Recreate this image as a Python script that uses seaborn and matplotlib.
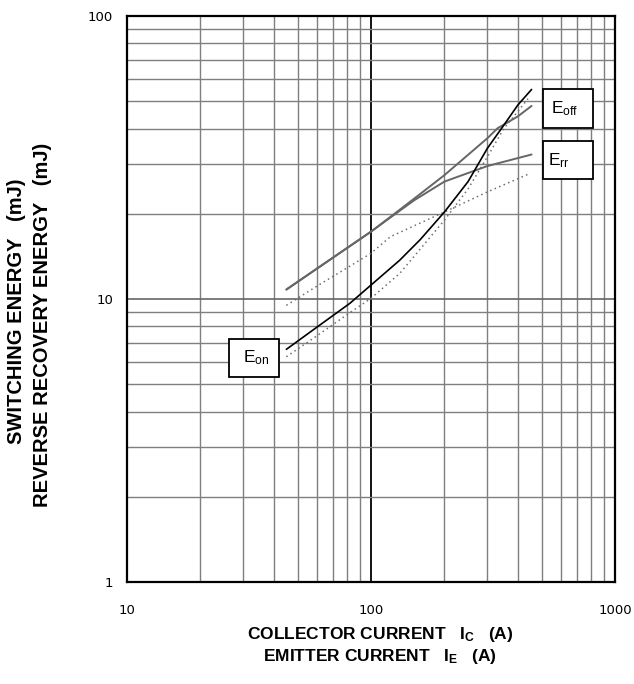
import numpy as np
import pandas as pd
import matplotlib
matplotlib.use("Agg")
import matplotlib.pyplot as plt
from matplotlib.patches import Rectangle
from matplotlib.ticker import FixedLocator, FixedFormatter, NullFormatter, LogLocator
import seaborn as sns

# ---- data ----
eon_current = [45, 60, 82, 100, 131, 159, 200, 250, 300, 350, 400, 455]
eon_energy = [6.64, 7.95, 9.66, 11.2, 13.7, 16.2, 20.3, 26.0, 34.1, 41.1, 48.5, 55.0]

eon2_current = [45, 60, 82, 100, 131, 159, 200, 250, 300, 350, 400, 440]
eon2_energy = [6.25, 7.41, 8.95, 10.06, 12.3, 15.0, 19.0, 24.5, 31.8, 40.0, 46.0, 51.0]

eoff_current = [45, 60, 100, 120, 150, 200, 300, 330, 400, 455]
eoff_energy = [10.8, 12.8, 17.3, 19.5, 22.6, 27.4, 37.0, 40.1, 44.2, 48.1]

err_current = [45, 60, 100, 120, 150, 200, 300, 455]
err_energy = [10.8, 12.8, 17.3, 19.4, 22.3, 26.0, 29.5, 32.4]

err2_current = [45, 60, 100, 120, 200, 300, 449]
err2_energy = [9.5, 11.1, 14.5, 16.6, 20.3, 23.9, 27.8]

x_ticks = [10, 100, 1000]
x_tick_labels = ["10", "100", "1000"]
y_ticks = [1, 10, 100]
y_tick_labels = ["1", "10", "100"]

# ---- style ----
sns.set_style("white")
plt.rcParams["font.family"] = ["Liberation Sans", "DejaVu Sans"]
plt.rcParams["text.color"] = "black"
plt.rcParams["mathtext.fontset"] = "custom"
plt.rcParams["mathtext.rm"] = "Liberation Sans"
plt.rcParams["mathtext.bf"] = "Liberation Sans:bold"

fig = plt.figure(figsize=(6.34, 6.84), dpi=100)
ax = fig.add_axes([127 / 634, 102 / 684, 488 / 634, 566 / 684])

grid_gray = "#7f7f7f"
line_gray = "#666666"
dot_gray = "#6f6f6f"

def draw(xs, ys, color, lw, ls):
    df = pd.DataFrame({"current": xs, "energy": ys})
    sns.lineplot(data=df, x="current", y="energy", ax=ax, color=color,
                 linewidth=lw, linestyle=ls, estimator=None, sort=True, zorder=3)

draw(err2_current, err2_energy, dot_gray, 1.1, (0, (1, 2.2)))
draw(eon2_current, eon2_energy, dot_gray, 1.1, (0, (1, 2.2)))
draw(err_current, err_energy, line_gray, 1.4, "-")
draw(eoff_current, eoff_energy, line_gray, 1.4, "-")
draw(eon_current, eon_energy, "black", 1.2, "-")

ax.set_xscale("log")
ax.set_yscale("log")
ax.set_xlim(10, 1000)
ax.set_ylim(1, 100)

ax.xaxis.set_major_locator(FixedLocator(x_ticks))
ax.xaxis.set_major_formatter(FixedFormatter(x_tick_labels))
ax.yaxis.set_major_locator(FixedLocator(y_ticks))
ax.yaxis.set_major_formatter(FixedFormatter(y_tick_labels))
ax.xaxis.set_minor_locator(LogLocator(base=10, subs=np.arange(2, 10)))
ax.yaxis.set_minor_locator(LogLocator(base=10, subs=np.arange(2, 10)))
ax.xaxis.set_minor_formatter(NullFormatter())
ax.yaxis.set_minor_formatter(NullFormatter())

ax.xaxis.grid(True, which="minor", color=grid_gray, linewidth=1.0)
ax.yaxis.grid(True, which="minor", color=grid_gray, linewidth=1.0)
ax.xaxis.grid(True, which="major", color="black", linewidth=1.3)
ax.yaxis.grid(True, which="major", color="#666666", linewidth=1.2)
ax.set_axisbelow(True)

ax.tick_params(axis="both", which="both", length=0)
ax.tick_params(axis="x", which="major", pad=16)
ax.tick_params(axis="y", which="major", pad=10)
for lab in ax.get_xticklabels() + ax.get_yticklabels():
    lab.set_fontfamily("DejaVu Sans")
    lab.set_fontsize(9.5)
    lab.set_color("black")

for sp in ax.spines.values():
    sp.set_visible(True)
    sp.set_color("black")
    sp.set_linewidth(1.6)

ax.set_xlabel("")
ax.set_ylabel("")

# ---- curve labels in boxes ----
boxes = [
    (0.853, 0.8027, 0.1025, 0.0678, 0.8975, r"E$\mathregular{_{off}}$"),
    (0.852, 0.7120, 0.1023, 0.0666, 0.885, r"E$\mathregular{_{rr}}$"),
    (0.2096, 0.3627, 0.1011, 0.0661, 0.2643, r"E$\mathregular{_{on}}$"),
]
for x0, y0, w, h, tx, txt in boxes:
    ax.add_patch(Rectangle((x0, y0), w, h, transform=ax.transAxes,
                           facecolor="white", edgecolor="black", linewidth=1.3, zorder=5))
    ax.text(tx, y0 + h / 2, txt, transform=ax.transAxes, ha="center", va="center",
            fontsize=12.5, color="black", zorder=6)

# ---- axis titles ----
fig.text(380 / 634, 1 - 635 / 684, r"COLLECTOR CURRENT   I$\mathregular{_C}$   (A)",
         ha="center", va="center", fontsize=12.5, fontweight="bold", color="black")
fig.text(380 / 634, 1 - 657 / 684, r"EMITTER CURRENT   I$\mathregular{_E}$   (A)",
         ha="center", va="center", fontsize=12.5, fontweight="bold", color="black")
fig.text(17 / 634, 1 - 311 / 684, "SWITCHING ENERGY   (mJ)", rotation=90,
         ha="center", va="center", fontsize=14.5, fontweight="bold", color="black")
fig.text(43 / 634, 1 - 325 / 684, "REVERSE RECOVERY ENERGY   (mJ)", rotation=90,
         ha="center", va="center", fontsize=14.5, fontweight="bold", color="black")

fig.savefig("out.png", dpi=100, facecolor="white")
